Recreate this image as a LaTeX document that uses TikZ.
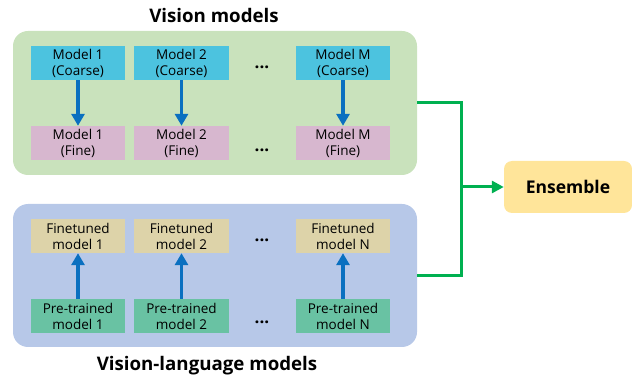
\documentclass[tikz,border=0pt]{standalone}
\usepackage{fontspec}
\setmainfont{Open Sans}
\usetikzlibrary{arrows.meta}
\definecolor{grpgreen}{HTML}{C9E2BC}
\definecolor{grpblue}{HTML}{B7C8E8}
\definecolor{coarse}{HTML}{4CC3DF}
\definecolor{fine}{HTML}{D7B7CF}
\definecolor{tuned}{HTML}{DDD3A9}
\definecolor{pre}{HTML}{69C2A3}
\definecolor{arrblue}{HTML}{0A70C0}
\definecolor{lnkgreen}{HTML}{00B050}
\definecolor{ensy}{HTML}{FFE59A}
\begin{document}
\begin{tikzpicture}[x=1pt,y=-1pt,
  group/.style={rounded corners=15pt, inner sep=0pt},
  mbox/.style={inner sep=0pt, minimum width=94pt, minimum height=34pt, align=center,
    font=\fontsize{13.5}{16}\selectfont},
  uparr/.style={draw=arrblue, line width=3.5pt, -{Triangle[width=13pt,length=12pt]}},
  title/.style={font=\fontsize{18.7}{20}\selectfont\bfseries},
  dots/.style={font=\fontsize{17}{16}\selectfont\bfseries}
]
\useasboundingbox (0,0) rectangle (632,379);
% groups
\node[group, fill=grpgreen, minimum width=404pt, minimum height=144pt] (vm) at (215,103) {};
\node[group, fill=grpblue, minimum width=404pt, minimum height=143pt] (vlm) at (215,275.5) {};
\node[title] (t1) at (214,15) {Vision models};
\node[title] (t2) at (207,366) {Vision-language models};
% vision models
\node[mbox, fill=coarse] (c1) at (78,63) {Model 1\\(Coarse)};
\node[mbox, fill=coarse, minimum width=95pt] (c2) at (181.5,63) {Model 2\\(Coarse)};
\node[mbox, fill=coarse] (c3) at (343,63) {Model M\\(Coarse)};
\node[mbox, fill=fine] (f1) at (78,143) {Model 1\\(Fine)};
\node[mbox, fill=fine, minimum width=95pt] (f2) at (181.5,143) {Model 2\\(Fine)};
\node[mbox, fill=fine] (f3) at (343,143) {Model M\\(Fine)};
\node[dots] (d1) at (262,67) {...};
\node[dots] (d2) at (262,150) {...};
\draw[uparr] (c1.south) -- (f1.north);
\draw[uparr] (c2.south) -- (f2.north);
\draw[uparr] (c3.south) -- (f3.north);
% vision-language models
\node[mbox, fill=tuned] (n1) at (78,236) {Finetuned\\model 1};
\node[mbox, fill=tuned, minimum width=95pt] (n2) at (181.5,236) {Finetuned\\model 2};
\node[mbox, fill=tuned] (n3) at (343,236) {Finetuned\\model N};
\node[mbox, fill=pre] (p1) at (78,316) {Pre-trained\\model 1};
\node[mbox, fill=pre, minimum width=95pt] (p2) at (181.5,316) {Pre-trained\\model 2};
\node[mbox, fill=pre] (p3) at (343,316) {Pre-trained\\model N};
\node[dots] (d3) at (262,240) {...};
\node[dots] (d4) at (262,322) {...};
\draw[uparr] (p1.north) -- (n1.south);
\draw[uparr] (p2.north) -- (n2.south);
\draw[uparr] (p3.north) -- (n3.south);
% ensemble
\node[fill=ensy, rounded corners=8pt, minimum width=128pt, minimum height=52pt, inner sep=0pt,
  font=\fontsize{17.5}{20}\selectfont\bfseries] (ens) at (568,187) {Ensemble};
\coordinate (j) at (461,187);
\draw[lnkgreen, line width=3pt] (vm.east) -| (j) |- (vlm.east);
\draw[lnkgreen, line width=3pt, -{Triangle[width=12pt,length=12pt]}] (j) -- (ens.west);
\end{tikzpicture}
\end{document}
